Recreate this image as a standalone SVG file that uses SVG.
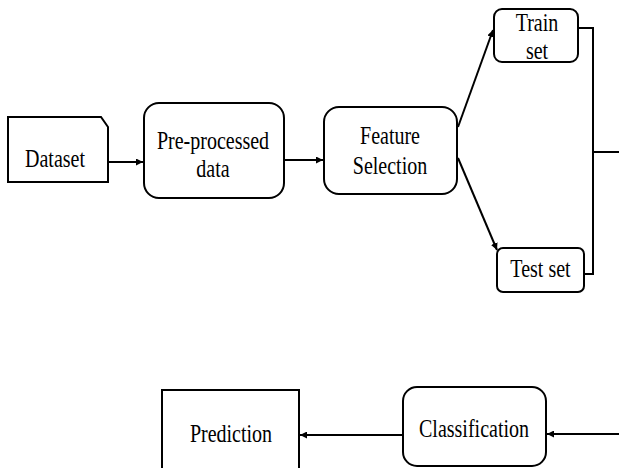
<svg xmlns="http://www.w3.org/2000/svg" width="619" height="468" viewBox="0 0 619 468">
<defs>
<marker id="arr" viewBox="0 0 8 8" refX="8" refY="4" markerWidth="7" markerHeight="7" markerUnits="userSpaceOnUse" orient="auto">
<path d="M0,0 L8,4 L0,8 Z" fill="#000"/>
</marker>
<style>
.box{fill:#fff;stroke:#000;stroke-width:2}
.ln{fill:none;stroke:#000;stroke-width:2}
.t{font-size:26px;fill:#000;text-anchor:middle}
</style>
</defs>
<rect width="619" height="468" fill="#fff"/>
<g id="connectors">
<path class="ln" d="M108,162 H143" marker-end="url(#arr)"/>
<path class="ln" d="M284,160 H323" marker-end="url(#arr)"/>
<path class="ln" d="M458,127 L493,30" marker-end="url(#arr)"/>
<path class="ln" d="M458,158 L497,250" marker-end="url(#arr)"/>
<path class="ln" d="M578,28 H593 V274 H584"/>
<path class="ln" d="M593,152 H619"/>
<path class="ln" d="M619,434 H547" marker-end="url(#arr)"/>
<path class="ln" d="M403,435 H300" marker-end="url(#arr)"/>
</g>
<g font-family="Liberation Serif, Times New Roman, Times, serif">
<g id="dataset">
<path class="box" d="M8,117 H101 L108,127 V182 H8 Z"/>
<text class="t" transform="translate(55,167) scale(0.77,1)">Dataset</text>
</g>
<g id="preprocessed">
<rect class="box" x="144" y="103" width="140" height="95" rx="15"/>
<text class="t" transform="translate(213,149) scale(0.77,1)">Pre-processed</text>
<text class="t" transform="translate(213,177) scale(0.77,1)">data</text>
</g>
<g id="feature">
<rect class="box" x="324" y="107" width="133" height="87" rx="15"/>
<text class="t" transform="translate(390,144) scale(0.77,1)">Feature</text>
<text class="t" transform="translate(390,174) scale(0.77,1)">Selection</text>
</g>
<g id="train">
<rect class="box" x="494" y="9" width="84" height="53" rx="8"/>
<text class="t" transform="translate(537,31) scale(0.77,1)">Train</text>
<text class="t" transform="translate(537,59) scale(0.77,1)">set</text>
</g>
<g id="test">
<rect class="box" x="497" y="248" width="87" height="44" rx="6"/>
<text class="t" transform="translate(540.5,277) scale(0.77,1)">Test set</text>
</g>
<g id="prediction">
<rect class="box" x="162" y="390" width="137" height="85"/>
<text class="t" transform="translate(231,442) scale(0.77,1)">Prediction</text>
</g>
<g id="classification">
<rect class="box" x="403" y="387" width="143" height="79" rx="14"/>
<text class="t" transform="translate(474,437) scale(0.77,1)">Classification</text>
</g>
</g>
</svg>
